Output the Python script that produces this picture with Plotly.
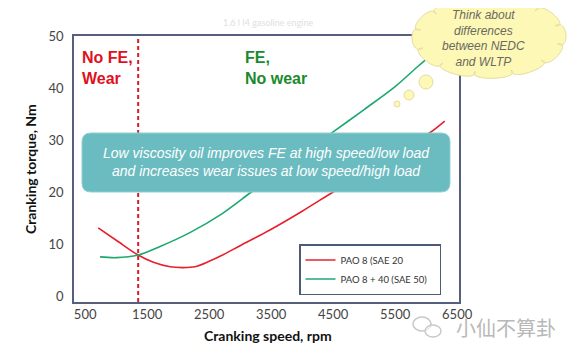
import math
import plotly.graph_objects as go

# ---- data ----
speed_red = [710, 1030, 1355, 1600, 1870, 2070, 2270, 2500, 2725, 3000, 3480, 4000, 4500, 5000, 5500, 6065, 6300]
torque_red = [13.2, 10.6, 8.0, 6.6, 5.75, 5.6, 5.75, 6.8, 8.05, 9.8, 12.8, 16.4, 20.1, 23.7, 27.4, 31.5, 33.7]
speed_green = [740, 1000, 1355, 1700, 2190, 2680, 3160, 3600, 4000, 4500, 5000, 5500, 5870, 6300]
torque_green = [7.65, 7.5, 8.0, 9.6, 12.3, 15.7, 19.9, 23.8, 27.3, 31.6, 35.9, 40.3, 44.2, 48.6]
series_names = ["PAO 8 (SAE 20", "PAO 8 + 40 (SAE 50)"]
x_ticks = [500, 1500, 2500, 3500, 4500, 5500, 6500]
y_ticks = [0, 10, 20, 30, 40, 50]
boundary_speed = 1355

# page body has an 8px margin: figure is drawn 8px right/down of the window origin
OFF = 8
W, H = 578 - OFF, 355 - OFF
PL, PR, PT, PB = 74, 459, 36, 302  # plot area in window pixels
ML, MT = PL - OFF, PT - OFF
MR, MB = W - (PR - OFF), H - (PB - OFF)
PW, PH = PR - PL, PB - PT


def X(px):
    return (px - PL) / PW


def Y(py):
    return (PB - py) / PH


fig = go.Figure()
fig.add_trace(go.Scatter(x=speed_red, y=torque_red, mode="lines", name=series_names[0] + "\u00a0\u00a0\u00a0",
                         line=dict(color="#e8202e", width=1.6, shape="spline", smoothing=0.9)))
fig.add_trace(go.Scatter(x=speed_green, y=torque_green, mode="lines", name=series_names[1] + "\u00a0\u00a0\u00a0",
                         line=dict(color="#1ea870", width=1.6, shape="spline", smoothing=0.9)))

shapes = []
shapes.append(dict(type="line", xref="x", yref="paper", x0=boundary_speed, x1=boundary_speed,
                   y0=0, y1=1, line=dict(color="#d41f2d", width=2, dash="4px,3px"), layer="above"))


def rrect(x0, y0, x1, y1, r):
    p = [f"M{X(x0 + r)},{Y(y0)}", f"L{X(x1 - r)},{Y(y0)}",
         f"Q{X(x1)},{Y(y0)} {X(x1)},{Y(y0 + r)}", f"L{X(x1)},{Y(y1 - r)}",
         f"Q{X(x1)},{Y(y1)} {X(x1 - r)},{Y(y1)}", f"L{X(x0 + r)},{Y(y1)}",
         f"Q{X(x0)},{Y(y1)} {X(x0)},{Y(y1 - r)}", f"L{X(x0)},{Y(y0 + r)}",
         f"Q{X(x0)},{Y(y0)} {X(x0 + r)},{Y(y0)}"]
    return " ".join(p) + " Z"


shapes.append(dict(type="path", xref="paper", yref="paper", path=rrect(82, 133, 450, 192, 9),
                   fillcolor="#6bbcc1", line=dict(color="#8fcfd2", width=1), layer="above"))


def cloud(cx, cy, rx, ry, n, bulge):
    pts = []
    for i in range(n + 1):
        t = 2 * math.pi * i / n + 0.2
        pts.append((cx + rx * math.cos(t), cy + ry * math.sin(t), t))
    p = [f"M{X(pts[0][0])},{Y(pts[0][1])}"]
    for i in range(n):
        xa, ya, ta = pts[i]
        xb, yb, tb = pts[i + 1]
        c1 = (xa + bulge * math.cos(ta - 0.4), ya + bulge * 0.8 * math.sin(ta - 0.4))
        c2 = (xb + bulge * math.cos(tb + 0.4), yb + bulge * 0.8 * math.sin(tb + 0.4))
        p.append(f"C{X(c1[0])},{Y(c1[1])} {X(c2[0])},{Y(c2[1])} {X(xb)},{Y(yb)}")
    return " ".join(p) + " Z"


cloud_fill = "#fdf8b6"
cloud_line = "#e4dc9e"
shapes.append(dict(type="path", xref="paper", yref="paper", path=cloud(489, 37, 70, 35, 12, 16),
                   fillcolor=cloud_fill, line=dict(color=cloud_line, width=1), layer="above"))
for (cx, cy, r) in [(426, 82, 7), (409, 95, 5), (397, 104, 3)]:
    shapes.append(dict(type="circle", xref="paper", yref="paper",
                       x0=X(cx - r), x1=X(cx + r), y0=Y(cy + r), y1=Y(cy - r),
                       fillcolor=cloud_fill, line=dict(color=cloud_line, width=1), layer="above"))

# small chat-bubble icon next to the watermark
for (cx, cy, rx, ry) in [(422, 324, 9, 7), (433, 331, 8, 6)]:
    shapes.append(dict(type="circle", xref="paper", yref="paper",
                       x0=X(cx - rx), x1=X(cx + rx), y0=Y(cy + ry), y1=Y(cy - ry),
                       fillcolor="rgba(255,255,255,0.6)", line=dict(color="#c8c8c8", width=1.5), layer="above"))


def note(text, px, py, size, color, family="Liberation Sans, Arial", xanchor="center", yanchor="middle",
         align="center", angle=0):
    return dict(text=text, x=X(px), y=Y(py), xref="paper", yref="paper", showarrow=False,
                xanchor=xanchor, yanchor=yanchor, align=align, textangle=angle,
                font=dict(family=family, size=size, color=color))


annotations = [
    note("<b>No FE,<br>Wear</b>", 80, 47, 16, "#e0101e", xanchor="left", yanchor="top", align="left"),
    note("<b>FE,<br>No wear</b>", 243, 47, 16, "#1a8a2c", xanchor="left", yanchor="top", align="left"),
    note("<i>Low viscosity oil improves FE at high speed/low load<br>and increases wear issues at low speed/high load</i>",
         266, 162, 14, "#ffffff"),
    note("<i>Think about<br>differences<br>between NEDC<br>and WLTP</i>", 484, 39, 12, "#6a6a60"),
    note("1.6 l I4 gasoline engine", 268, 23, 9, "#e0e0e0", family="Lato"),
    note("<b>Cranking torque, Nm</b>", 30, 169, 14, "#111111", family="Lato", angle=-90),
    note("<b>Cranking speed, rpm</b>", 268, 335, 14, "#111111", family="Lato"),
    note("小仙不算卦", 506, 327, 20, "#b8b8b8", family="Noto Sans CJK SC"),
]

fig.update_layout(
    width=W, height=H,
    margin=dict(l=ML, r=MR, t=MT, b=MB, autoexpand=False),
    paper_bgcolor="white", plot_bgcolor="white",
    shapes=shapes, annotations=annotations,
    showlegend=True,
    legend=dict(x=X(299), y=Y(244), xanchor="left", yanchor="top",
                bgcolor="white", bordercolor="#4d5a78", borderwidth=1.5,
                font=dict(family="Lato", size=9.5, color="#333333"),
                itemwidth=30, tracegroupgap=0),
    xaxis=dict(range=[320, 6530], tickvals=x_ticks, showgrid=False, zeroline=False,
               showline=True, linecolor="#56607c", linewidth=1.5, mirror=True,
               ticks="", tickfont=dict(family="Lato", size=13, color="#444444")),
    yaxis=dict(range=[-1, 50], tickvals=y_ticks, showgrid=False, zeroline=False,
               showline=True, linecolor="#56607c", linewidth=1.5, mirror=True,
               ticks="", ticklabelstandoff=6, tickfont=dict(family="Lato", size=13, color="#444444")),
)

fig.write_html("out.html")
